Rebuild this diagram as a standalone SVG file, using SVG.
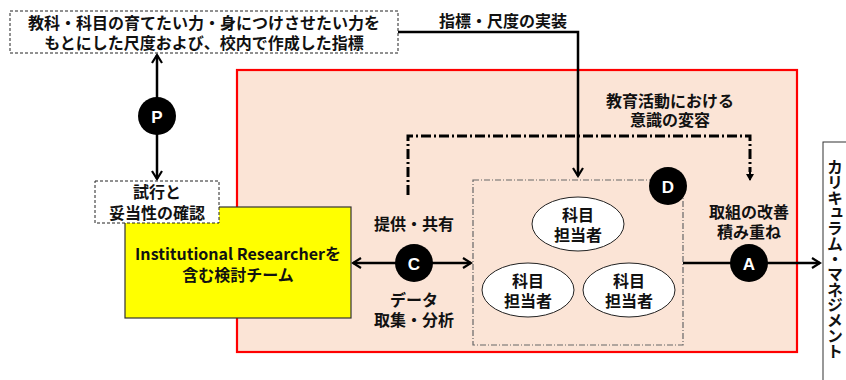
<svg xmlns="http://www.w3.org/2000/svg" width="846" height="380" viewBox="0 0 846 380">
<style>
text{font-family:"Noto Sans CJK JP","Liberation Sans",sans-serif;font-weight:bold;fill:#111;text-anchor:middle;dominant-baseline:central}
.t{font-size:16px}
.lbl{font-family:"Liberation Sans",sans-serif;font-size:17px;fill:#fff}
.dash{fill:#fff;stroke:#222;stroke-width:1;stroke-dasharray:3,2}
.ln{fill:none;stroke:#000;stroke-width:2.5}
.circ{fill:#000}
</style>
<defs>
<marker id="ar" viewBox="0 0 12 12" refX="10" refY="6" markerWidth="12" markerHeight="12" markerUnits="userSpaceOnUse" orient="auto-start-reverse">
<polyline points="2,1 10,6 2,11" fill="none" stroke="#000" stroke-width="2.2"/>
</marker>
<marker id="ar2" viewBox="0 0 10 10" refX="5" refY="8" markerWidth="10" markerHeight="10" markerUnits="userSpaceOnUse" orient="0">
<polygon points="1,2 9,2 5,9" fill="#000"/>
</marker>
</defs>
<rect x="237" y="70" width="560" height="282" fill="#FBE4D6" stroke="#FF0000" stroke-width="2.2"/>
<g id="connectors">
<polyline class="ln" points="398,32 578,32 578,176" marker-end="url(#ar)"/>
<line class="ln" x1="157" y1="55" x2="157" y2="179" marker-start="url(#ar)" marker-end="url(#ar)"/>
<polyline fill="none" stroke="#000" stroke-width="3" stroke-dasharray="10,3,2,3" points="408,195 408,136 750,136 750,172"/>
<line x1="750" y1="172" x2="750" y2="180" stroke="#000" stroke-width="2" marker-end="url(#ar2)"/>
<line class="ln" x1="353" y1="263" x2="471" y2="263" marker-start="url(#ar)" marker-end="url(#ar)"/>
<line class="ln" x1="683" y1="263" x2="820" y2="263" marker-end="url(#ar)"/>
<text class="t" x="503" y="20">指標・尺度の実装</text>
<text class="t" x="670" y="100">教育活動における</text>
<text class="t" x="670" y="119">意識の変容</text>
<text class="t" x="414" y="223">提供・共有</text>
<text class="t" x="414" y="299">データ</text>
<text class="t" x="414" y="319">取集・分析</text>
<text class="t" x="749" y="211">取組の改善</text>
<text class="t" x="749" y="231">積み重ね</text>
</g>
<g id="top-box">
<rect class="dash" x="10" y="11" width="388" height="42"/>
<text class="t" x="204" y="22">教科・科目の育てたい力・身につけさせたい力を</text>
<text class="t" x="204" y="42">もとにした尺度および、校内で作成した指標</text>
</g>
<g id="team-box">
<rect x="125" y="207" width="226" height="111" fill="#FFFF00" stroke="#333" stroke-width="1.2"/>
<text class="t" x="238" y="253">Institutional Researcherを</text>
<text class="t" x="238" y="274">含む検討チーム</text>
</g>
<g id="trial-box">
<rect class="dash" x="95" y="181" width="124" height="42"/>
<text class="t" x="157" y="191">試行と</text>
<text class="t" x="157" y="212">妥当性の確認</text>
</g>
<g id="d-box">
<rect x="473" y="180" width="210" height="165" fill="none" stroke="#666" stroke-width="1.2" stroke-dasharray="6,2,1,2"/>
</g>
<g id="teacher1">
<ellipse cx="578" cy="224" rx="46" ry="27" fill="#fff" stroke="#222" stroke-width="1"/>
<text class="t" x="578" y="214">科目</text>
<text class="t" x="578" y="234">担当者</text>
</g>
<g id="teacher2">
<ellipse cx="528" cy="290" rx="46" ry="27" fill="#fff" stroke="#222" stroke-width="1"/>
<text class="t" x="528" y="280">科目</text>
<text class="t" x="528" y="300">担当者</text>
</g>
<g id="teacher3">
<ellipse cx="629" cy="290" rx="46" ry="27" fill="#fff" stroke="#222" stroke-width="1"/>
<text class="t" x="629" y="280">科目</text>
<text class="t" x="629" y="300">担当者</text>
</g>
<g id="P"><circle class="circ" cx="157" cy="116" r="19"/><text class="lbl" x="157" y="117">P</text></g>
<g id="D"><circle class="circ" cx="668" cy="186" r="19"/><text class="lbl" x="668" y="187">D</text></g>
<g id="C"><circle class="circ" cx="414" cy="263" r="19"/><text class="lbl" x="414" y="264">C</text></g>
<g id="A"><circle class="circ" cx="749" cy="263" r="19"/><text class="lbl" x="749" y="264">A</text></g>
<g id="cm-box">
<rect x="823" y="142" width="40" height="250" fill="#fff" stroke="#333" stroke-width="1"/>
<text class="t" x="835" y="259" style="writing-mode:vertical-rl" textLength="200" lengthAdjust="spacing">カリキュラム・マネジメント</text>
</g>
</svg>
